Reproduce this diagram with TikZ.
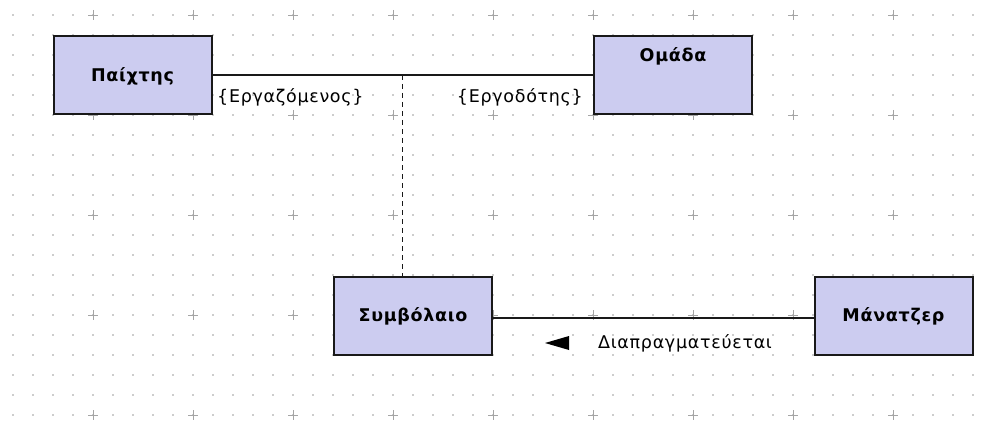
\documentclass[tikz,border=0pt]{standalone}
\usepackage{fontspec}
\setmainfont{DejaVu Sans}
\definecolor{classfill}{RGB}{204,204,240}
\definecolor{griddot}{RGB}{205,205,205}
\definecolor{gridcross}{RGB}{165,165,165}
\tikzset{
  classbox/.style={draw=black!90, line width=2pt, fill=classfill,
    minimum width=158pt, minimum height=78pt, inner sep=0pt,
    text height=12.8pt, text depth=0pt,
    font=\fontsize{17.5}{20}\selectfont\bfseries\addfontfeature{LetterSpace=4}},
  classname/.style={inner sep=0pt, text height=12.8pt, text depth=0pt,
    font=\fontsize{17.5}{20}\selectfont\bfseries\addfontfeature{LetterSpace=4}},
  role/.style={inner sep=0pt,
    font=\fontsize{17.5}{20}\selectfont\addfontfeature{LetterSpace=4}},
  assoc/.style={line width=1.2pt, black!90},
}
\begin{document}
\begin{tikzpicture}[x=1pt,y=-1pt]
  \useasboundingbox (0,0) rectangle (992,433);
  % Background grid
  \foreach \i in {0,...,48}
    \foreach \j in {0,...,20}
      \fill[griddot] (12.2+20*\i,14.2+20*\j) rectangle ++(1.6,1.6);
  \foreach \i in {0,...,8}
    \foreach \j in {0,...,4}
      \draw[gridcross, line width=0.8pt] (88+100*\i,15+100*\j) -- ++(10,0)
        (93+100*\i,10+100*\j) -- ++(0,10);
  % Classes
  \node[classbox] (player) at (132.5,75) {Παίχτης};
  \node[classbox] (team) at (673,75) {};
  \node[classname] (teamname) at ([yshift=-20pt]team.north) {Ομάδα};
  \node[classbox] (contract) at (413,315.5) {Συμβόλαιο};
  \node[classbox] (manager) at (893.5,315.5) {Μάνατζερ};
  % Associations
  \draw[assoc] (player) -- (team);
  \coordinate (joint) at (402,75);
  \draw[assoc, line width=1pt, dash pattern=on 5pt off 4pt] (joint) -- (joint |- contract.north);
  \draw[assoc] ([yshift=-2.5pt]contract.east) -- ([yshift=-2.5pt]manager.west);
  % Role names
  \node[role, anchor=west] (employee) at (217,97) {\{Εργαζόμενος\}};
  \node[role, anchor=east] (employer) at (583,97) {\{Εργοδότης\}};
  % Association name
  \node[role, anchor=west] (negotiates) at (598,343) {Διαπραγματεύεται};
  \fill (545,343) -- (569,336) -- (569,350) -- cycle;
\end{tikzpicture}
\end{document}
